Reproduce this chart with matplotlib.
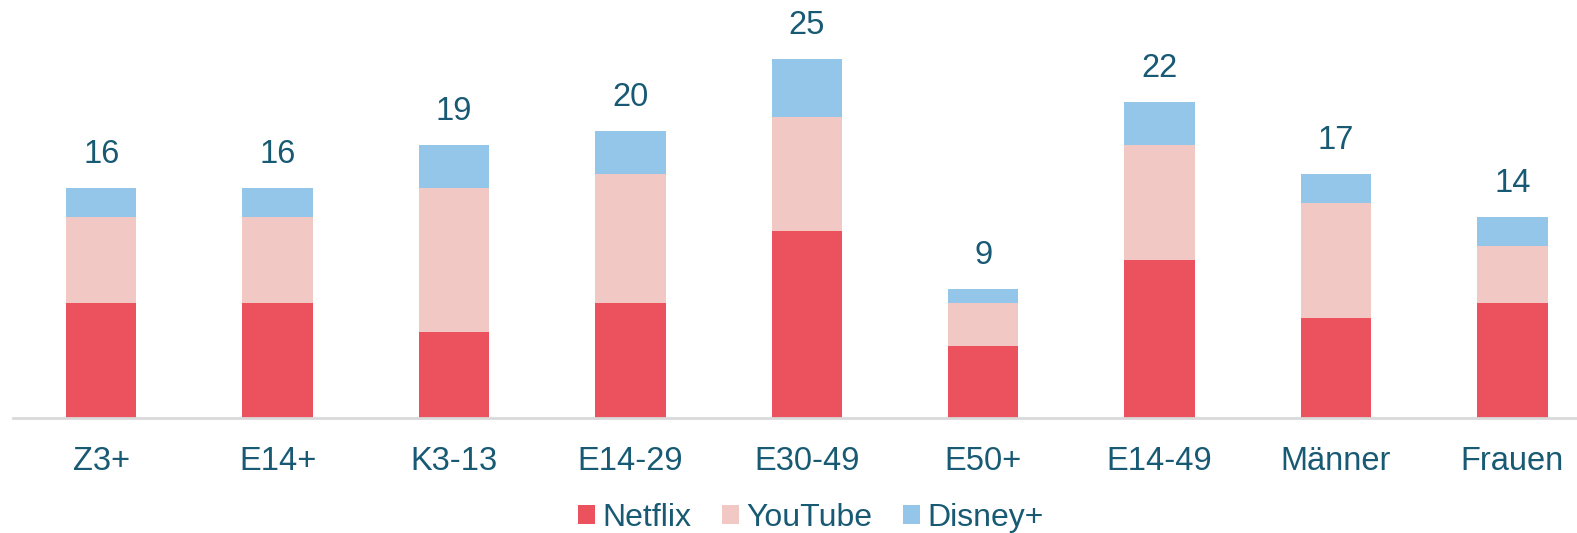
import matplotlib
matplotlib.use("Agg")
import matplotlib.pyplot as plt
import numpy as np

# data
categories = ["Z3+", "E14+", "K3-13", "E14-29", "E30-49", "E50+", "E14-49", "Männer", "Frauen"]
netflix = [8, 8, 6, 8, 13, 5, 11, 7, 8]
youtube = [6, 6, 10, 9, 8, 3, 8, 8, 4]
disney = [2, 2, 3, 3, 4, 1, 3, 2, 2]

series_names = ["Netflix", "YouTube", "Disney+"]
colors = ["#EC525E", "#F2C8C4", "#93C6E8"]
text_color = "#185A73"

plt.rcParams["font.family"] = ["Liberation Sans", "DejaVu Sans"]

fig = plt.figure(figsize=(15.77, 5.33), dpi=100)
# axes runs slightly past the right edge, like the cropped original
ax = fig.add_axes([13 / 1577, 115 / 533, 1587.6 / 1577, 418 / 533])

x = np.arange(len(categories))
bottom = np.zeros(len(categories))
for name, vals, col in zip(series_names, [netflix, youtube, disney], colors):
    ax.bar(x, vals, width=0.4, bottom=bottom, color=col, label=name, zorder=2)
    bottom += np.array(vals)

for xi, total in zip(x, bottom):
    ax.annotate(f"{int(total)}", (xi, total), xytext=(0, 18), textcoords="offset points",
                ha="center", va="baseline", fontsize=23.5, color=text_color)

ax.set_xlim(-0.5, len(categories) - 0.5)
ax.set_ylim(0, 29.13)
ax.set_xticks(x, categories)
ax.tick_params(axis="x", length=0, pad=20, labelsize=23.5, labelcolor=text_color)
ax.set_yticks([])
for side in ["top", "right", "left"]:
    ax.spines[side].set_visible(False)
ax.spines["bottom"].set_color("#D9D9D9")
ax.spines["bottom"].set_linewidth(2)
ax.spines["bottom"].set_zorder(3)

leg = fig.legend(loc="center", bbox_to_anchor=(811 / 1577, 15 / 533), ncol=3, frameon=False,
                 fontsize=23, handlelength=0.53, handleheight=0.55, handletextpad=0.22,
                 columnspacing=0.97, borderaxespad=0)
for t in leg.get_texts():
    t.set_color(text_color)

fig.savefig("out.png", dpi=100)
